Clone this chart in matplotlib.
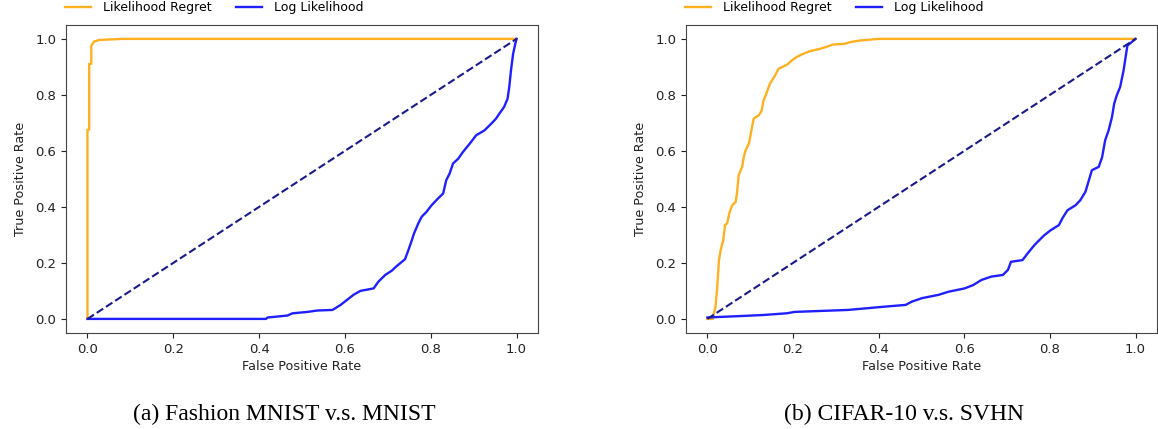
import matplotlib
matplotlib.use("Agg")
import matplotlib.pyplot as plt

# (a) Fashion MNIST v.s. MNIST
a_lr_fpr = [0.0, 0.0, 0.004, 0.004, 0.009, 0.009, 0.015, 0.027, 0.08, 1.0]
a_lr_tpr = [0.0, 0.676, 0.676, 0.911, 0.911, 0.976, 0.99, 0.996, 1.0, 1.0]

a_ll_fpr = [0.0, 0.416, 0.42, 0.466, 0.478, 0.513, 0.536, 0.571, 0.59, 0.605, 0.62, 0.636,
            0.667, 0.678, 0.694, 0.709, 0.721, 0.74, 0.748, 0.756, 0.761, 0.771, 0.779,
            0.79, 0.802, 0.817, 0.829, 0.836, 0.844, 0.852, 0.864, 0.875, 0.891, 0.906,
            0.925, 0.941, 0.952, 0.96, 0.971, 0.979, 0.983, 0.987, 0.992, 0.997, 1.0]
a_ll_tpr = [0.0, 0.0, 0.005, 0.012, 0.02, 0.025, 0.03, 0.032, 0.05, 0.068, 0.086, 0.10,
            0.109, 0.133, 0.157, 0.172, 0.189, 0.213, 0.246, 0.281, 0.305, 0.341, 0.365,
            0.382, 0.406, 0.43, 0.448, 0.495, 0.519, 0.555, 0.572, 0.596, 0.626, 0.656,
            0.673, 0.697, 0.715, 0.733, 0.757, 0.786, 0.828, 0.887, 0.947, 0.982, 1.0]

# (b) CIFAR-10 v.s. SVHN
b_lr_fpr = [0.0, 0.013, 0.015, 0.019, 0.023, 0.027, 0.031, 0.037, 0.041, 0.046, 0.052,
            0.058, 0.066, 0.069, 0.073, 0.081, 0.085, 0.089, 0.097, 0.102, 0.108, 0.12,
            0.127, 0.131, 0.139, 0.146, 0.158, 0.166, 0.177, 0.189, 0.197, 0.208, 0.224,
            0.239, 0.262, 0.281, 0.293, 0.32, 0.332, 0.355, 0.40, 1.0]
b_lr_tpr = [0.0, 0.0, 0.02, 0.044, 0.115, 0.21, 0.246, 0.281, 0.335, 0.341, 0.382,
            0.406, 0.418, 0.448, 0.513, 0.543, 0.578, 0.602, 0.626, 0.667, 0.715, 0.727,
            0.745, 0.78, 0.81, 0.84, 0.869, 0.893, 0.901, 0.911, 0.923, 0.935, 0.947,
            0.956, 0.964, 0.973, 0.98, 0.982, 0.988, 0.994, 1.0, 1.0]

b_ll_fpr = [0.0, 0.089, 0.131, 0.185, 0.204, 0.328, 0.416, 0.463, 0.478, 0.501, 0.54,
            0.563, 0.601, 0.621, 0.64, 0.663, 0.69, 0.702, 0.709, 0.736, 0.748, 0.764,
            0.775, 0.787, 0.802, 0.821, 0.829, 0.841, 0.86, 0.871, 0.883, 0.891, 0.898,
            0.914, 0.922, 0.929, 0.937, 0.945, 0.95, 0.956, 0.964, 0.972, 0.978, 0.981, 1.0]
b_ll_tpr = [0.005, 0.011, 0.014, 0.02, 0.025, 0.032, 0.044, 0.05, 0.062, 0.074, 0.086,
            0.097, 0.109, 0.121, 0.139, 0.151, 0.157, 0.175, 0.204, 0.21, 0.234, 0.264,
            0.281, 0.299, 0.317, 0.335, 0.359, 0.388, 0.406, 0.424, 0.454, 0.495, 0.531,
            0.543, 0.578, 0.638, 0.673, 0.721, 0.768, 0.798, 0.828, 0.887, 0.947, 0.976, 1.0]

diag = [0.0, 1.0]
captions = ["(a) Fashion MNIST v.s. MNIST", "(b) CIFAR-10 v.s. SVHN"]
series_names = ["Likelihood Regret", "Log Likelihood"]
ticks = [0.0, 0.2, 0.4, 0.6, 0.8, 1.0]

fig = plt.figure(figsize=(11.58, 4.29), dpi=100)
ax_a = fig.add_axes([0.057, 0.224, 0.4076, 0.718])
ax_b = fig.add_axes([0.5924, 0.224, 0.4067, 0.718])

panels = [
    (ax_a, a_lr_fpr, a_lr_tpr, a_ll_fpr, a_ll_tpr, captions[0]),
    (ax_b, b_lr_fpr, b_lr_tpr, b_ll_fpr, b_ll_tpr, captions[1]),
]

for ax, lf, lt, gf, gt, cap in panels:
    ax.plot(lf, lt, color="#FFB020", lw=1.7, label=series_names[0])
    ax.plot(gf, gt, color="#1F1FFF", lw=1.7, label=series_names[1])
    ax.plot(diag, diag, color="#1A1A8C", lw=1.5, linestyle="--")
    ax.set_xlim(-0.05, 1.05)
    ax.set_ylim(-0.05, 1.05)
    ax.set_xticks(ticks)
    ax.set_yticks(ticks)
    ax.tick_params(labelsize=9.5, colors="#222222")
    for s in ax.spines.values():
        s.set_color("#444444")
    ax.set_xlabel("False Positive Rate", fontsize=9.2, color="#222222", labelpad=3)
    ax.set_ylabel("True Positive Rate", fontsize=9.2, color="#222222", labelpad=6)
    ax.legend(loc="center left", bbox_to_anchor=(-0.002, 1.055), ncol=2, frameon=False,
              fontsize=9, borderaxespad=0, borderpad=0, handlelength=2.1,
              handletextpad=0.9, columnspacing=2.0)
    ax.text(0.463, -0.2825, cap, transform=ax.transAxes, ha="center", va="baseline",
            fontsize=17, family="Liberation Serif", color="black")

fig.savefig("out.png", dpi=100)
